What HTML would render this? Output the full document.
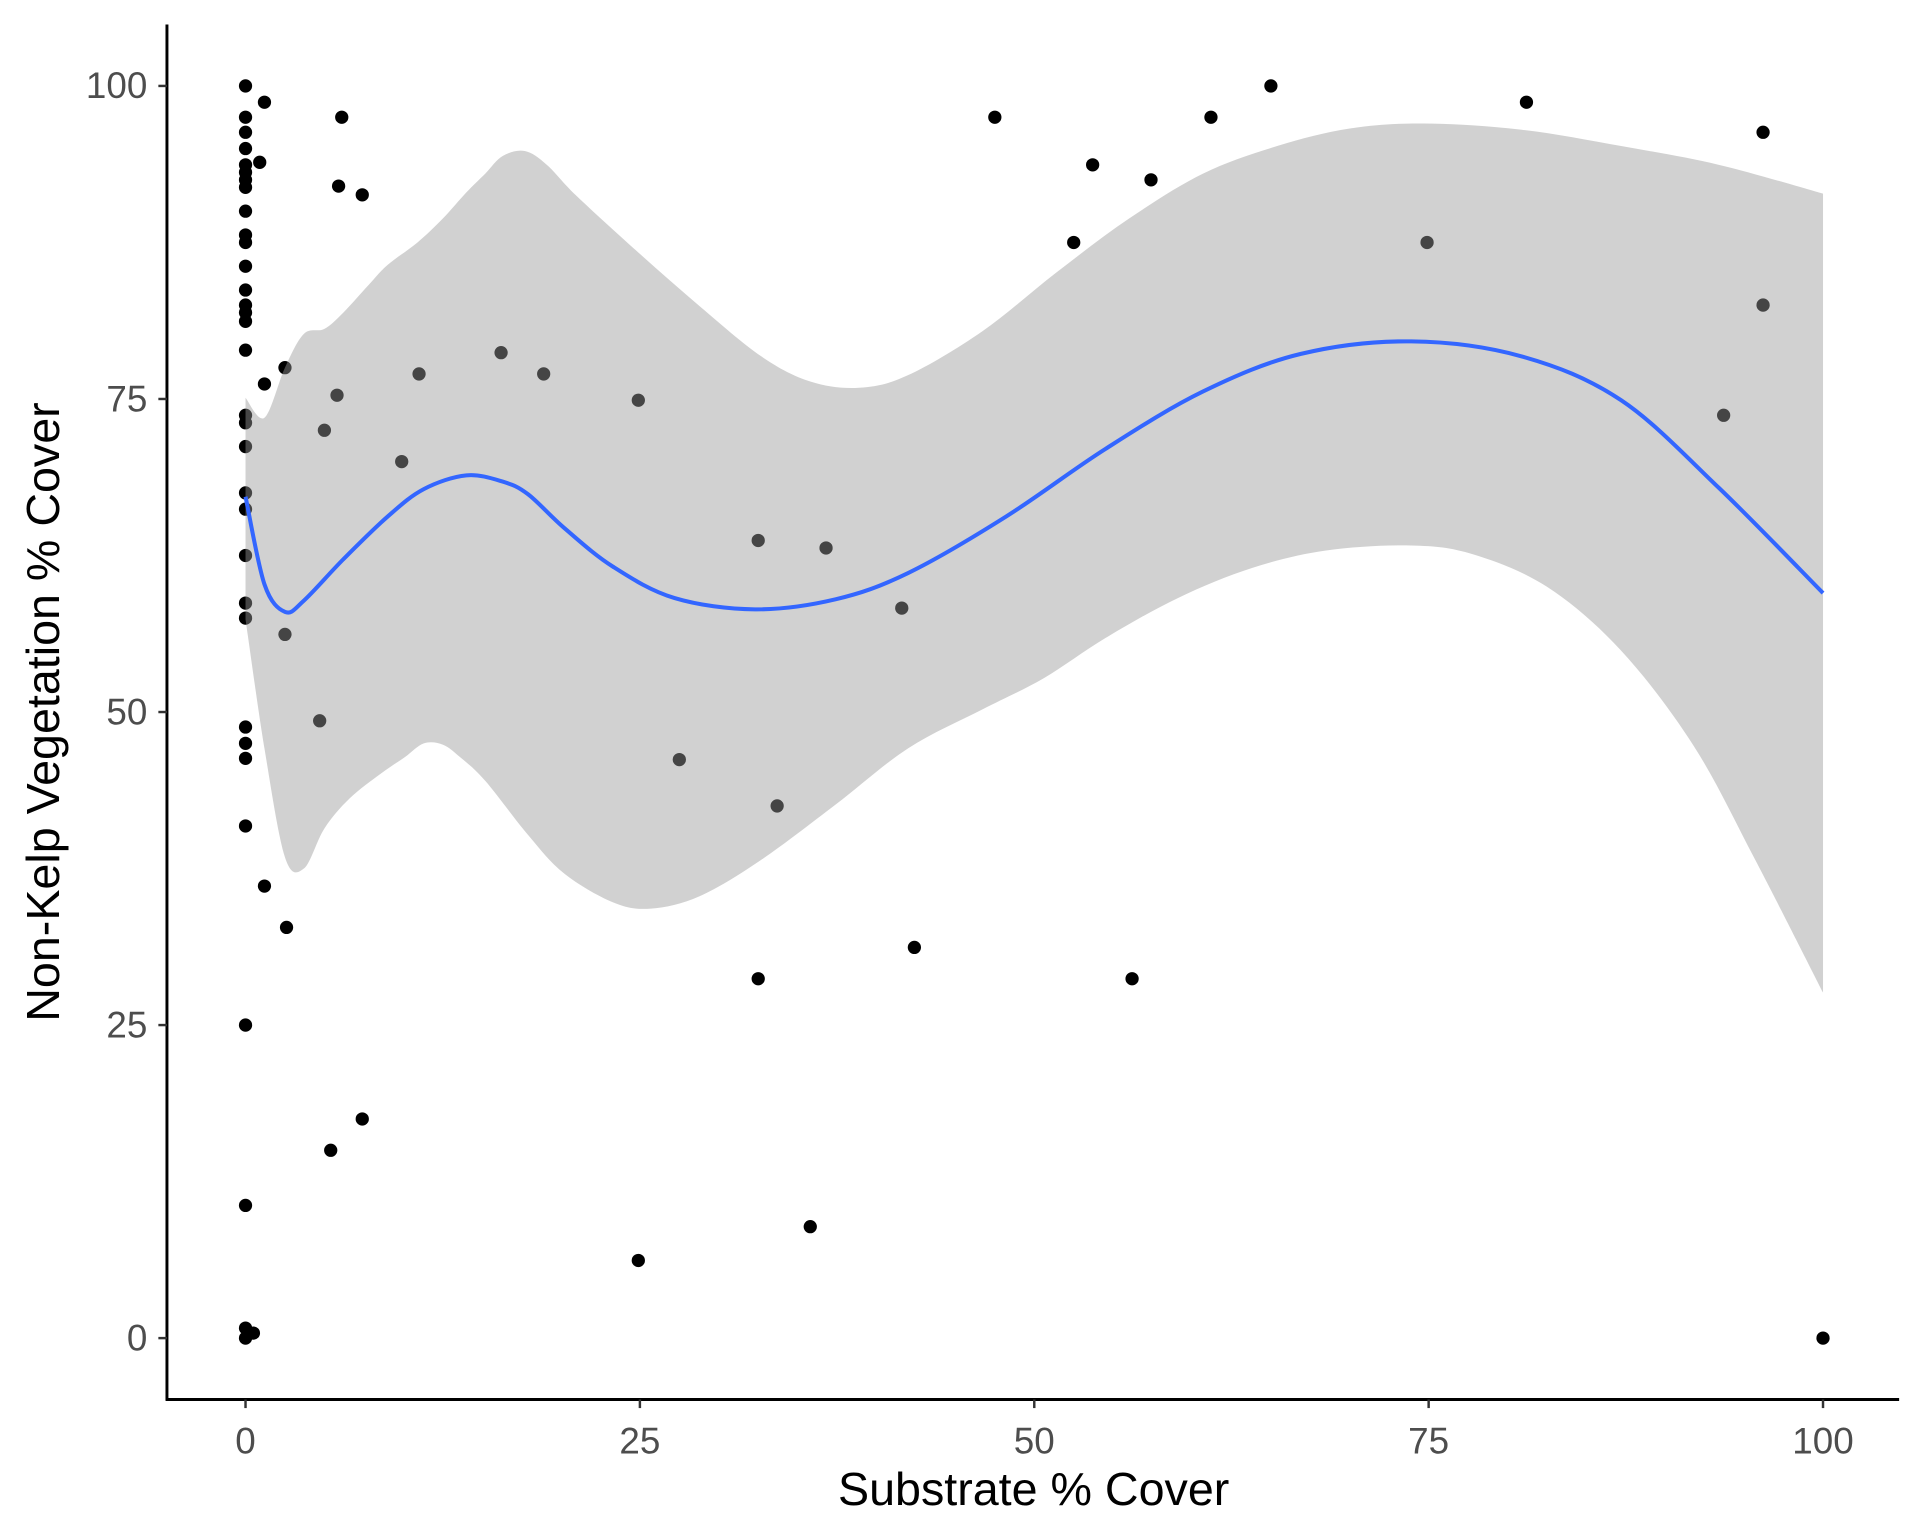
<!DOCTYPE html>
<html><head><meta charset="utf-8"><style>
html,body{margin:0;padding:0;background:#fff;}
svg{display:block;}
text{font-family:"Liberation Sans",Arial,sans-serif;}
</style></head><body>
<svg id="chart" width="1920" height="1536" viewBox="0 0 1564 1251.2" preserveAspectRatio="none" xmlns="http://www.w3.org/2000/svg">
<g id="points"></g>
<g id="band"></g>
<g id="line"></g>
<g id="axes"></g>
</svg>
<script>
const ptX = [0,0,0,0,0,0,0,0,0,0,0,0,0,0,0,0,0,0,0,0,0,0,0,0,0,0,0,0,0,0,0,0,0,
 1.2,0.9,6.1,5.9,7.4,1.2,2.5,5.8,5,9.9,11,16.2,18.9,24.9,2.5,4.7,1.2,2.6,7.4,5.4,0.5,24.9,27.5,32.5,36.8,33.7,32.5,35.8,41.6,42.4,47.5,52.5,53.7,57.4,56.2,61.2,65,74.9,81.2,96.2,96.2,93.7,100];
const ptY = [100,97.5,96.3,95,93.7,93.1,92.5,91.9,90,88.1,87.5,85.6,83.7,82.5,81.9,81.2,78.9,73.7,73.1,71.2,67.5,66.2,62.5,58.7,57.5,48.8,47.5,46.3,40.9,25,10.6,0.8,0,
 98.7,93.9,97.5,92,91.3,76.2,77.5,75.3,72.5,70,77,78.7,77,74.9,56.2,49.3,36.1,32.8,17.5,15,0.4,6.2,46.2,63.7,63.1,42.5,28.7,8.9,58.3,31.2,97.5,87.5,93.7,92.5,28.7,97.5,100,87.5,98.7,96.3,82.5,73.7,0];
const fitX = [0,1.2,2.5,3.7,6.2,9,11.3,14,16.3,17.9,20.2,23.3,27.2,32.3,37.4,42,48.2,54.5,60.7,66.9,73.9,80.9,87.2,93.4,100];
const fitY = [67.2,60.2,58,58.9,62.2,65.6,67.8,68.9,68.4,67.4,64.7,61.6,59.1,58.2,59,61.1,65.6,71,75.6,78.6,79.6,78.4,74.9,67.9,59.5];
const upX = [0,1.2,2.5,3.7,5,6.2,7.8,9,10.9,12.5,14,15.2,16.3,17.7,19.1,21,24.9,28.8,32.7,35.8,38.9,42,46.7,51.4,56,60.7,65.4,70,74.7,80.9,87.2,93.4,100];
const upY = [75.1,73.5,77.5,80.2,80.6,81.9,84.1,85.7,87.5,89.4,91.5,93,94.4,94.8,93.7,91.2,86.7,82.4,78.4,76.4,75.9,76.9,80.4,85.1,89.4,93,95.2,96.6,97,96.5,95.2,93.7,91.4];
const loX = [0,1.2,2.5,3.7,5,6.6,8.6,10.1,11.3,12.5,13.6,15.2,17.9,20.2,23.3,25.7,28.8,32.7,37.4,42,46.7,50.6,54.5,59.1,63.8,68.5,73.9,77.8,82.5,87.2,91.8,95.7,100];
const loY = [57.4,47.1,38.4,37.5,40.7,43.1,45.1,46.4,47.5,47.4,46.4,44.5,40.2,37.1,34.8,34.3,35.3,38.2,42.6,47.1,50.2,52.7,55.9,59.1,61.5,62.9,63.3,62.6,60,54.9,47.3,38.2,27.6];
const xTicks = [0,25,50,75,100];
const yTicks = [0,25,50,75,100];

const NS="http://www.w3.org/2000/svg";
const sx = v => 200 + v*12.85;
const sy = v => 1090 - v*10.2;
function mk(tag, parent, attrs){const e=document.createElementNS(NS,tag);for(const k in attrs)e.setAttribute(k,attrs[k]);parent.appendChild(e);return e;}
function smooth(pts){
  let d='';
  for(let i=0;i<pts.length-1;i++){
    const p0=pts[Math.max(0,i-1)],p1=pts[i],p2=pts[i+1],p3=pts[Math.min(pts.length-1,i+2)];
    const c1=[p1[0]+(p2[0]-p0[0])/6,p1[1]+(p2[1]-p0[1])/6];
    const c2=[p2[0]-(p3[0]-p1[0])/6,p2[1]-(p3[1]-p1[1])/6];
    d+=' C'+c1[0]+','+c1[1]+' '+c2[0]+','+c2[1]+' '+p2[0]+','+p2[1];
  }
  return d;
}

const gp=document.getElementById('points');
ptX.forEach((x,i)=>{
  const c=mk('circle',gp,{cx:sx(x),cy:sy(ptY[i]),r:5.4,fill:'#000'});
  
  
});

const gb=document.getElementById('band');
const up=upX.map((x,i)=>[sx(x),sy(upY[i])]);
const lo=loX.map((x,i)=>[sx(x),sy(loY[i])]).reverse();
let d='M'+up[0][0]+','+up[0][1]+smooth(up)+' L'+lo[0][0]+','+lo[0][1]+smooth(lo)+' Z';
const band=mk('path',gb,{d:d,fill:'#999999','fill-opacity':0.45,stroke:'none'});



const gl=document.getElementById('line');
const fp=fitX.map((x,i)=>[sx(x),sy(fitY[i])]);
const ln=mk('path',gl,{d:'M'+fp[0][0]+','+fp[0][1]+smooth(fp),fill:'none',stroke:'#3366FF','stroke-width':3.3,'stroke-linejoin':'round'});



const ga=document.getElementById('axes');
const ya=mk('line',ga,{x1:136,y1:20,x2:136,y2:1141,stroke:'#000','stroke-width':2.4});


const xa=mk('line',ga,{x1:135,y1:1140,x2:1547,y2:1140,stroke:'#000','stroke-width':2.4});


xTicks.forEach(t=>{
  const tk=mk('line',ga,{x1:sx(t),y1:1140,x2:sx(t),y2:1147,stroke:'#333','stroke-width':2});
  
  
  const tx=mk('text',ga,{x:sx(t),y:1184,'text-anchor':'middle','font-size':30,fill:'#4d4d4d'});
  tx.textContent=t;
  
  
});
yTicks.forEach(t=>{
  const tk=mk('line',ga,{x1:129,y1:sy(t),x2:136,y2:sy(t),stroke:'#333','stroke-width':2});
  
  
  const tx=mk('text',ga,{x:120,y:sy(t)+10,'text-anchor':'end','font-size':30,fill:'#4d4d4d'});
  tx.textContent=t;
  
  
});
const xt=mk('text',ga,{x:842,y:1226,'text-anchor':'middle','font-size':38,fill:'#000'});
xt.textContent='Substrate % Cover';


const yt=mk('text',ga,{x:0,y:0,'text-anchor':'middle','font-size':38,fill:'#000',transform:'translate(48,580) rotate(-90)'});
yt.textContent='Non-Kelp Vegetation % Cover';


</script>
</body></html>
